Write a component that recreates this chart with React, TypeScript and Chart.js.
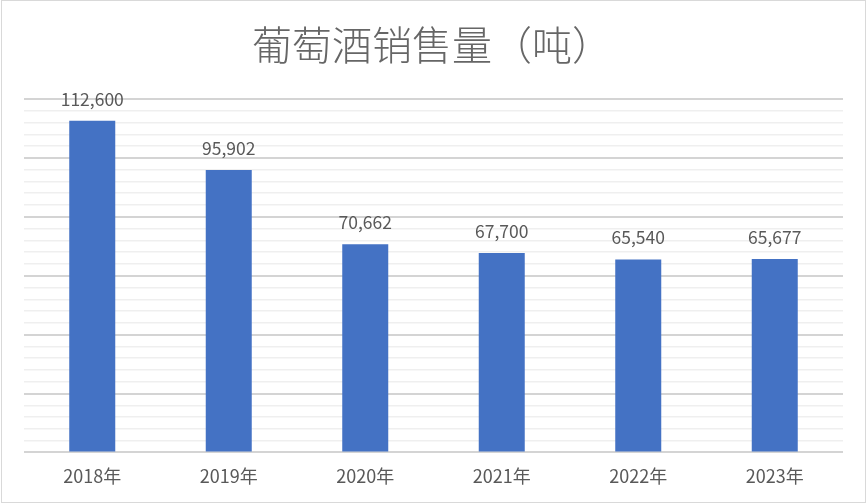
import React, { useEffect, useRef } from "react";
import { Chart, registerables } from "chart.js";

Chart.register(...registerables);

const categories = ["2018年", "2019年", "2020年", "2021年", "2022年", "2023年"];
const salesValues = [112600, 95902, 70662, 67700, 65540, 65677];
const chartTitle = "葡萄酒销售量（吨）";

const FONT = '"Noto Sans CJK SC", "Noto Sans", sans-serif';

const framePlugin = {
  id: "frame",
  beforeDraw(chart: any) {
    const { ctx, width, height } = chart;
    ctx.save();
    ctx.fillStyle = "#ffffff";
    ctx.fillRect(0, 0, width, height);
    ctx.strokeStyle = "#d9d9d9";
    ctx.lineWidth = 1;
    ctx.strokeRect(1.5, 0.5, width - 3, height - 2);
    ctx.restore();
  },
  afterDraw(chart: any) {
    const { ctx } = chart;
    ctx.save();
    ctx.fillStyle = "#666666";
    ctx.font = `300 40px ${FONT}`;
    ctx.textAlign = "center";
    ctx.textBaseline = "alphabetic";
    ctx.fillText(chartTitle, 432, 60);
    ctx.restore();
  },
};

const labelPlugin = {
  id: "barLabels",
  afterDatasetsDraw(chart: any) {
    const { ctx } = chart;
    const meta = chart.getDatasetMeta(0);
    ctx.save();
    ctx.fillStyle = "#595959";
    ctx.font = `17.5px ${FONT}`;
    ctx.textAlign = "center";
    ctx.textBaseline = "alphabetic";
    meta.data.forEach((bar: any, i: number) => {
      const v = salesValues[i];
      ctx.fillText(v.toLocaleString("en-US"), bar.x, bar.y - 15);
    });
    ctx.restore();
  },
};

export default function App() {
  const canvasRef = useRef<HTMLCanvasElement | null>(null);

  useEffect(() => {
    if (!canvasRef.current) return;
    const chart = new Chart(canvasRef.current, {
      type: "bar",
      data: {
        labels: categories,
        datasets: [
          {
            data: salesValues,
            backgroundColor: "#4472C4",
            borderWidth: 0,
            categoryPercentage: 1,
            barPercentage: 0.337,
          },
        ],
      },
      options: {
        responsive: false,
        animation: false,
        devicePixelRatio: 1,
        layout: { padding: { top: 99, left: 24, right: 24, bottom: 12 } },
        plugins: {
          legend: { display: false },
          title: { display: false },
          tooltip: { enabled: false },
        },
        scales: {
          x: {
            grid: { display: false },
            border: { display: false },
            ticks: {
              color: "#595959",
              font: { family: FONT, size: 18 },
              padding: 5,
            },
          },
          y: {
            min: 0,
            max: 120000,
            ticks: { display: false, stepSize: 4000 },
            border: { display: false },
            grid: {
              drawTicks: false,
              color: (ctx: any) =>
                ctx.tick && ctx.tick.value % 20000 === 0 ? "#d4d4d4" : "#efefef",
              lineWidth: (ctx: any) =>
                ctx.tick && ctx.tick.value % 20000 === 0 ? 2 : 1.5,
            },
          },
        },
      },
      plugins: [framePlugin, labelPlugin],
    });
    return () => chart.destroy();
  }, []);

  return (
    <div style={{ position: "absolute", left: 0, top: 0, width: 867, height: 504 }}>
      <canvas ref={canvasRef} width={867} height={504} style={{ display: "block" }} />
    </div>
  );
}
